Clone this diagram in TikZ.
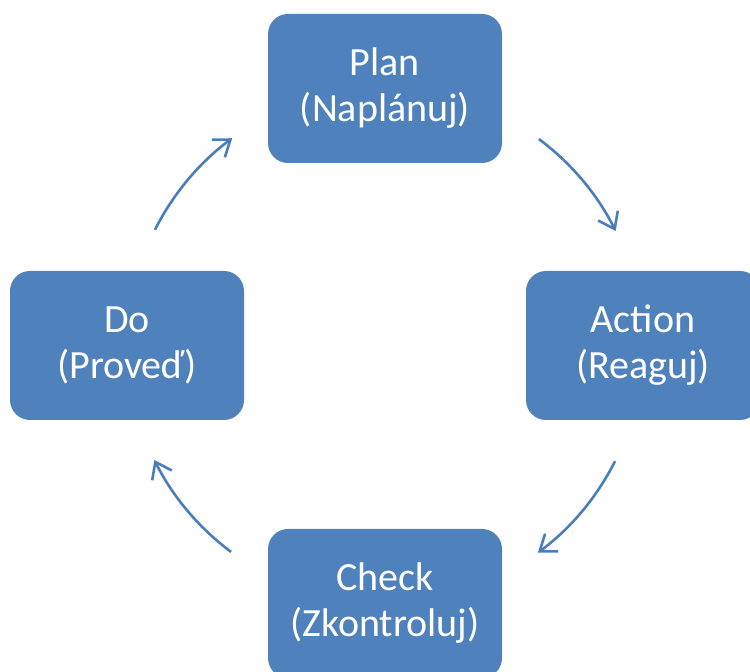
\documentclass[tikz,border=0pt]{standalone}
\usepackage{fontspec}
\setmainfont{Carlito}
\usetikzlibrary{arrows.meta,calc}
\definecolor{boxblue}{HTML}{4F81BD}
\definecolor{arrblue}{HTML}{4A7EBB}
\tikzset{
  pdcabox/.style={fill=boxblue, draw=none, rounded corners=20pt, minimum width=234pt, minimum height=149pt,
    text=white, align=center, font=\fontsize{40}{46}\selectfont, inner sep=0pt},
  cyclearrow/.style={draw=arrblue, line width=2.6pt, -{Straight Barb[length=15pt,width=22pt]}}
}
\begin{document}
\begin{tikzpicture}[x=1pt,y=1pt]
\useasboundingbox (0,0) rectangle (750,672);
\coordinate (c) at (385,326.5);
\node[pdcabox] (plan) at (385,583.5) {Plan\\(Naplánuj)};
\node[pdcabox] (action) at (643,326.5) {Action\\(Reaguj)};
\node[pdcabox] (do) at (127,326.5) {Do\\(Proveď)};
\node[pdcabox] (check) at (385,68.5) {Check\\(Zkontroluj)};
\coordinate (pa1) at ($(c)+(53.3:257.5)$);
\coordinate (ac1) at ($(c)+(-26.7:257.5)$);
\coordinate (cd1) at ($(c)+(233.3:257.5)$);
\coordinate (dp1) at ($(c)+(153.3:257.5)$);
\draw[cyclearrow] (pa1) arc[start angle=53.3, end angle=26.4, radius=257.5];
\draw[cyclearrow] (ac1) arc[start angle=-26.7, end angle=-53.6, radius=257.5];
\draw[cyclearrow] (cd1) arc[start angle=233.3, end angle=206.4, radius=257.5];
\draw[cyclearrow] (dp1) arc[start angle=153.3, end angle=126.4, radius=257.5];
\end{tikzpicture}
\end{document}
